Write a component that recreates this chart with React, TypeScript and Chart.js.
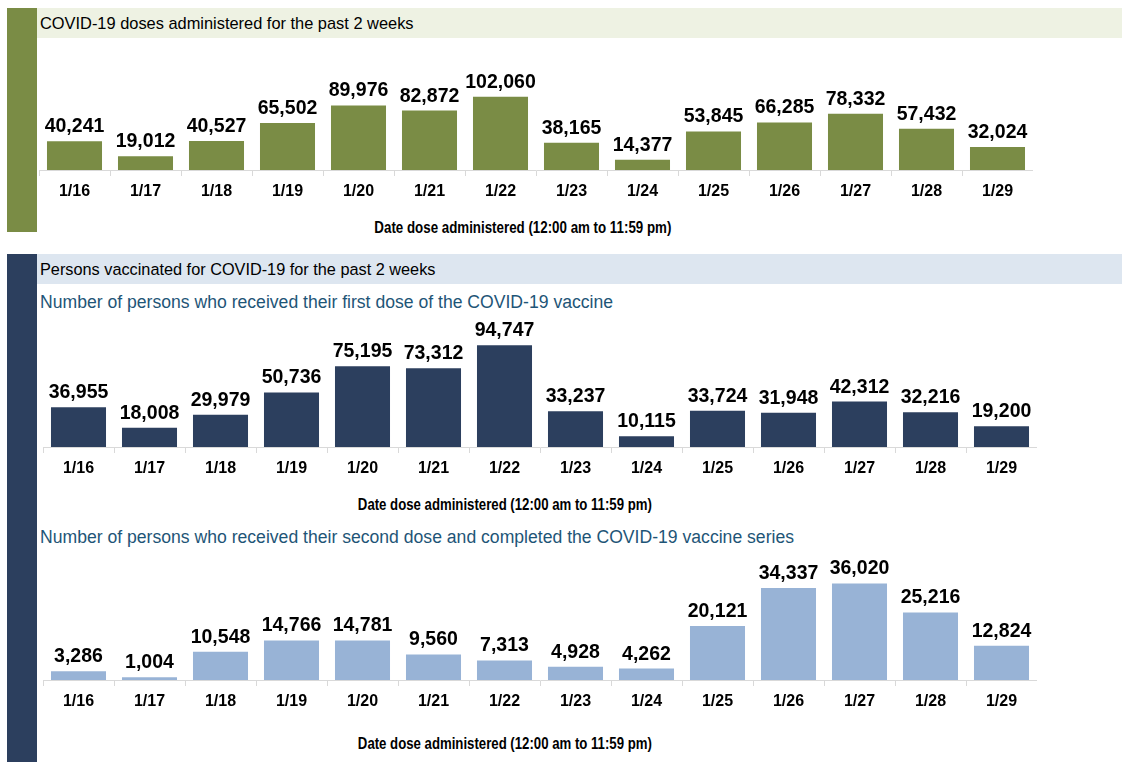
import React, { useEffect, useLayoutEffect, useRef } from "react";
import { Chart, registerables } from "chart.js";

Chart.register(...registerables);

const categories = ["1/16", "1/17", "1/18", "1/19", "1/20", "1/21", "1/22", "1/23", "1/24", "1/25", "1/26", "1/27", "1/28", "1/29"];
const dosesAdministered = [40241, 19012, 40527, 65502, 89976, 82872, 102060, 38165, 14377, 53845, 66285, 78332, 57432, 32024];
const firstDose = [36955, 18008, 29979, 50736, 75195, 73312, 94747, 33237, 10115, 33724, 31948, 42312, 32216, 19200];
const secondDose = [3286, 1004, 10548, 14766, 14781, 9560, 7313, 4928, 4262, 20121, 34337, 36020, 25216, 12824];

const SANS = '"Liberation Sans", Arial, sans-serif';

const GREEN = "#7a8c45";
const NAVY = "#2c3f5e";
const LIGHTBLUE = "#98b3d6";

type BarProps = {
  data: number[];
  color: string;
  yMax: number;
  left: number;
  top: number;
  width: number;
  areaHeight: number;
};

const AXIS_H = 40;

function BarChart({ data, color, yMax, left, top, width, areaHeight }: BarProps) {
  const ref = useRef<HTMLCanvasElement>(null);
  useEffect(() => {
    const labelPlugin = {
      id: "valueLabels",
      afterDatasetsDraw(chart: any) {
        const ctx = chart.ctx;
        const meta = chart.getDatasetMeta(0);
        ctx.save();
        ctx.font = `bold 19.5px ${SANS}`;
        ctx.fillStyle = "#000";
        ctx.textAlign = "center";
        ctx.textBaseline = "alphabetic";
        meta.data.forEach((bar: any, i: number) => {
          const v = chart.data.datasets[0].data[i] as number;
          ctx.fillText(v.toLocaleString("en-US"), bar.x, bar.y - 9);
        });
        ctx.restore();
      },
    };
    const chart = new Chart(ref.current as HTMLCanvasElement, {
      type: "bar",
      data: {
        labels: categories,
        datasets: [
          {
            data,
            backgroundColor: color,
            borderWidth: 0,
            barPercentage: 1,
            categoryPercentage: 0.775,
          },
        ],
      },
      options: {
        animation: false,
        responsive: false,
        maintainAspectRatio: false,
        layout: { padding: 0 },
        plugins: { legend: { display: false }, tooltip: { enabled: false } },
        scales: {
          x: {
            grid: { drawOnChartArea: false, drawTicks: true, tickLength: 6, color: "#d9d9d9", offset: true },
            border: { color: "#d9d9d9", width: 1 },
            ticks: {
              color: "#000",
              font: { family: SANS, size: 16, weight: "bold" },
              padding: 6,
              maxRotation: 0,
              autoSkip: false,
            },
            afterFit: (s: any) => {
              s.height = AXIS_H;
            },
          },
          y: { display: false, min: 0, max: yMax },
        },
      },
      plugins: [labelPlugin],
    } as any);
    return () => chart.destroy();
  }, []);
  return (
    <canvas
      ref={ref}
      width={width}
      height={areaHeight + AXIS_H}
      style={{ position: "absolute", left, top, width, height: areaHeight + AXIS_H }}
    />
  );
}

function Text({ x, y, text, size, color, weight }: any) {
  const lh = 24;
  return (
    <div
      style={{
        position: "absolute",
        left: x,
        top: y - lh / 2,
        height: lh,
        lineHeight: `${lh}px`,
        fontSize: size,
        fontFamily: SANS,
        fontWeight: weight,
        color,
        whiteSpace: "nowrap",
      }}
    >
      {text}
    </div>
  );
}

// Condensed bold axis title: regular sans scaled horizontally to the reference width
function AxisTitle({ cx, y, text, targetWidth }: any) {
  const ref = useRef<HTMLSpanElement>(null);
  useLayoutEffect(() => {
    const el = ref.current;
    if (!el) return;
    const w = el.getBoundingClientRect().width;
    if (w > 0) el.style.transform = `scaleX(${targetWidth / w})`;
  }, []);
  const lh = 24;
  return (
    <div
      style={{
        position: "absolute",
        left: cx - 400,
        width: 800,
        top: y - lh / 2,
        height: lh,
        lineHeight: `${lh}px`,
        textAlign: "center",
        whiteSpace: "nowrap",
      }}
    >
      <span
        ref={ref}
        style={{
          display: "inline-block",
          fontSize: 16.5,
          fontWeight: "bold",
          fontFamily: SANS,
          color: "#000",
          transformOrigin: "center",
        }}
      >
        {text}
      </span>
    </div>
  );
}

const AXIS_TITLE = "Date dose administered (12:00 am to 11:59 pm)";

export default function App() {
  return (
    <div style={{ position: "absolute", left: 0, top: 0, width: 1126, height: 768, background: "#fff", overflow: "hidden" }}>
      {/* Section 1 */}
      <div style={{ position: "absolute", left: 7, top: 8, width: 30, height: 224, background: GREEN }} />
      <div style={{ position: "absolute", left: 37, top: 8, width: 1085, height: 30, background: "#eef2e3" }} />
      <Text x={40} y={23} text="COVID-19 doses administered for the past 2 weeks" size={16.4} color="#000" weight="normal" />
      <BarChart data={dosesAdministered} color={GREEN} yMax={181300} left={39} top={40} width={994} areaHeight={130} />
      <AxisTitle cx={523} y={227} text={AXIS_TITLE} targetWidth={297} />

      {/* Section 2 */}
      <div style={{ position: "absolute", left: 7, top: 254, width: 30, height: 508, background: NAVY }} />
      <div style={{ position: "absolute", left: 37, top: 254, width: 1085, height: 30, background: "#dde6f0" }} />
      <Text x={40} y={269} text="Persons vaccinated for COVID-19 for the past 2 weeks" size={16.3} color="#000" weight="normal" />
      <Text x={40} y={302} text="Number of persons who received their first dose of the COVID-19 vaccine" size={17.6} color="#1e5577" weight="normal" />
      <BarChart data={firstDose} color={NAVY} yMax={127442} left={43} top={310} width={994} areaHeight={137} />
      <AxisTitle cx={505} y={504} text={AXIS_TITLE} targetWidth={294} />

      <Text x={40} y={537} text="Number of persons who received their second dose and completed the COVID-19 vaccine series" size={17.6} color="#1e5577" weight="normal" />
      <BarChart data={secondDose} color={LIGHTBLUE} yMax={48507} left={43} top={550} width={994} areaHeight={130} />
      <AxisTitle cx={505} y={743} text={AXIS_TITLE} targetWidth={294} />
    </div>
  );
}
